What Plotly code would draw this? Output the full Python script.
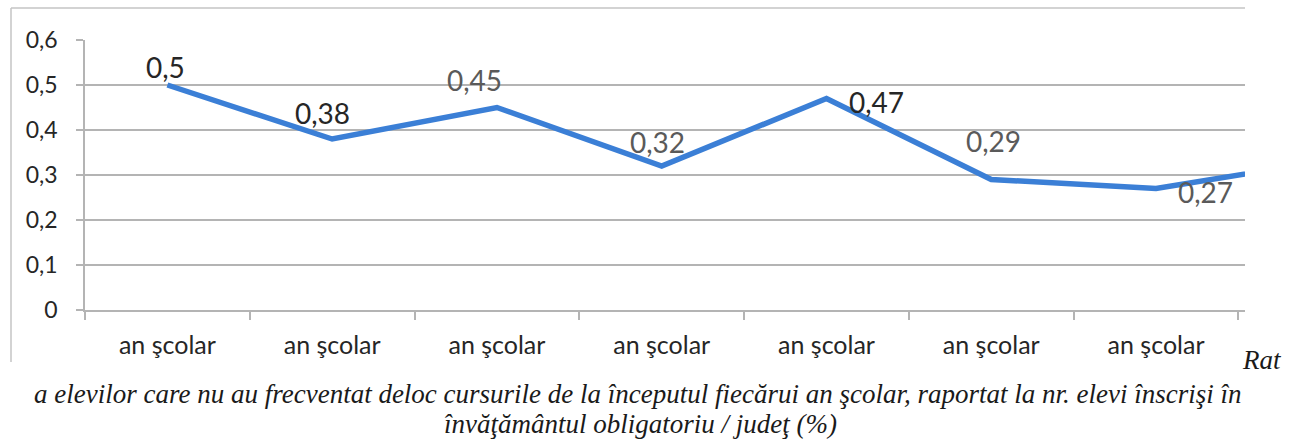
import plotly.graph_objects as go

# --- data -------------------------------------------------------------
categories = ["an şcolar"] * 8
values = [0.5, 0.38, 0.45, 0.32, 0.47, 0.29, 0.27, 0.33]
value_labels = ["0,5", "0,38", "0,45", "0,32", "0,47", "0,29", "0,27"]
y_tick_values = [0, 0.1, 0.2, 0.3, 0.4, 0.5, 0.6]
y_tick_labels = ["0", "0,1", "0,2", "0,3", "0,4", "0,5", "0,6"]
caption_head = "Rat"
caption_body = ("a elevilor care nu au frecventat deloc cursurile de la începutul "
                "fiecărui an şcolar, raportat la nr. elevi înscrişi în")
caption_tail = "învăţământul obligatoriu / judeţ (%)"

# --- geometry ---------------------------------------------------------
W, H = 1289, 443
L, R, T, B = 85, 1245, 40, 310          # plot area edges in pixels


def px_x(p):
    return (p - L) / (R - L)


def px_y(p):
    return (B - p) / (B - T)


x_idx = list(range(len(values)))
dark, gray = "#262626", "#5a5a5a"
grid_col = "#b4b4b4"

fig = go.Figure()
fig.add_trace(go.Scatter(
    x=x_idx, y=values, mode="lines",
    line=dict(color="#3b7fd6", width=5.5),
    hoverinfo="skip", showlegend=False,
))

# data labels: (x shift, y shift, colour) per point
label_style = [(-2, 18, dark), (-10, 26, dark), (-22, 28, gray), (-4, 24, gray),
               (50, -3, dark), (2, 39, gray), (49, -3, gray)]
annotations = []
for i, (txt, (dx, dy, col)) in enumerate(zip(value_labels, label_style)):
    annotations.append(dict(
        x=x_idx[i], y=values[i], xref="x", yref="y", text=txt, showarrow=False,
        xshift=dx, yshift=dy, font=dict(family="Lato", size=28, color=col),
    ))

serif = "Liberation Serif, Times New Roman, serif"
cap_font = dict(family=serif, size=27, color="#1a1a1a", style="italic")
annotations += [
    dict(x=px_x(1284), y=px_y(360), xref="paper", yref="paper", xanchor="right",
         yanchor="middle", text=caption_head, showarrow=False,
         font=dict(family=serif, size=27, color="#1a1a1a", style="italic")),
    dict(x=px_x(638), y=px_y(394), xref="paper", yref="paper", xanchor="center",
         yanchor="middle", text=caption_body, showarrow=False, font=cap_font),
    dict(x=px_x(640), y=px_y(424), xref="paper", yref="paper", xanchor="center",
         yanchor="middle", text=caption_tail, showarrow=False, font=cap_font),
]

# chart frame (left and top edges)
frame = dict(color="#c4c4c4", width=1.5)
shapes = [
    dict(type="line", xref="paper", yref="paper", x0=px_x(11), x1=px_x(11),
         y0=px_y(362), y1=px_y(8), line=frame),
    dict(type="line", xref="paper", yref="paper", x0=px_x(11), x1=px_x(1245),
         y0=px_y(8), y1=px_y(8), line=frame),
]

fig.update_layout(
    width=W, height=H,
    margin=dict(l=L, r=W - R, t=T, b=H - B, pad=0),
    paper_bgcolor="white", plot_bgcolor="white",
    annotations=annotations, shapes=shapes,
    xaxis=dict(
        range=[-0.5, 6.54], tickmode="array", tickvals=x_idx,
        ticktext=categories, ticks="", showgrid=False, zeroline=False,
        showline=True, linecolor=grid_col, linewidth=1.5,
        tickfont=dict(family="Lato", size=25, color=dark),
        ticklabelstandoff=12,
        minor=dict(tick0=0.5, dtick=1, ticks="outside", ticklen=8,
                   tickcolor=grid_col, tickwidth=1.5, showgrid=False),
    ),
    yaxis=dict(
        range=[0, 0.6], tickmode="array", tickvals=y_tick_values,
        ticktext=y_tick_labels, showgrid=True, gridcolor=grid_col, gridwidth=1.5,
        zeroline=False, showline=True, linecolor=grid_col, linewidth=1.5,
        ticks="outside", ticklen=7, tickcolor=grid_col, tickwidth=1.5,
        tickfont=dict(family="Lato", size=23, color=dark),
        ticklabelstandoff=14,
    ),
)

fig.write_html("out.html")
